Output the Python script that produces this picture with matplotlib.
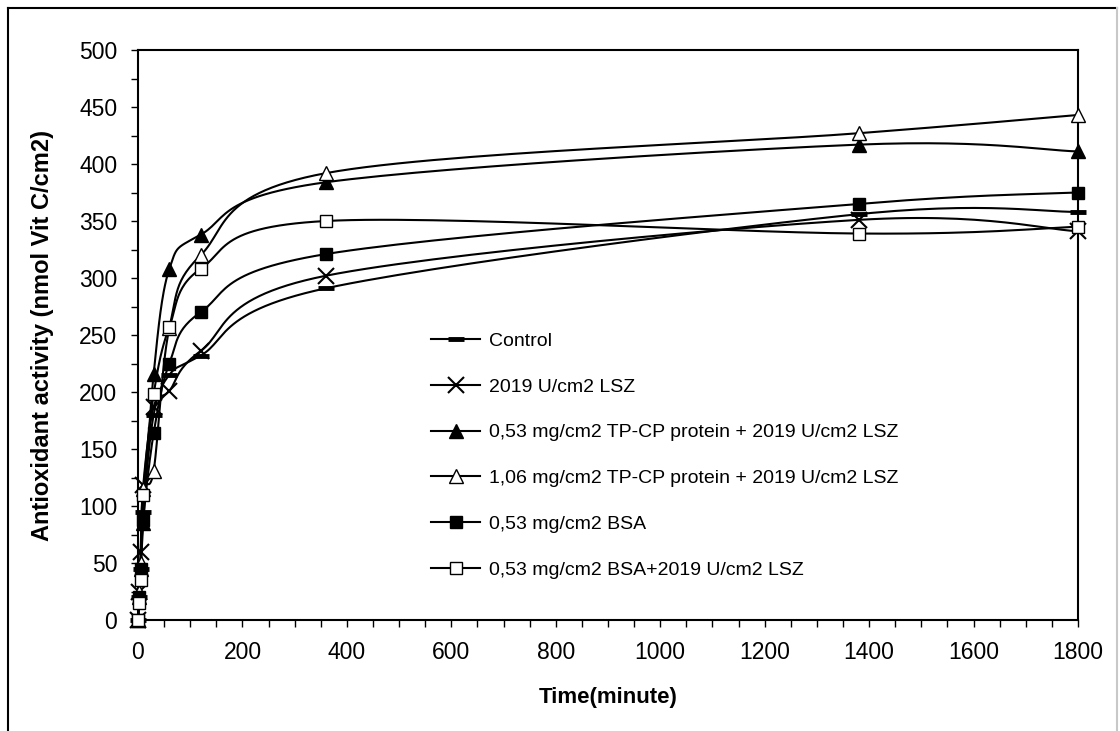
import numpy as np
import matplotlib.pyplot as plt
from matplotlib.lines import Line2D

plt.rcParams['font.family'] = ['Liberation Sans', 'DejaVu Sans']

# tiempos de muestreo (min)
tiempo = [0, 2, 5, 10, 30, 60, 120, 360, 1380, 1800]

control = [0, 20, 45, 95, 180, 215, 232, 291, 356, 358]
lsz = [0, 25, 60, 118, 187, 201, 236, 302, 351, 341]
tp053_lsz = [0, 20, 45, 85, 216, 308, 338, 384, 417, 411]
tp106_lsz = [0, 25, 50, 115, 131, 256, 320, 392, 427, 443]
bsa = [0, 20, 45, 88, 164, 225, 270, 321, 365, 375]
bsa_lsz = [0, 15, 35, 110, 198, 257, 308, 350, 339, 345]

etiquetas = ['Control',
             '2019 U/cm2 LSZ',
             '0,53 mg/cm2 TP-CP protein + 2019 U/cm2 LSZ',
             '1,06 mg/cm2 TP-CP protein + 2019 U/cm2 LSZ',
             '0,53 mg/cm2 BSA',
             '0,53 mg/cm2 BSA+2019 U/cm2 LSZ']

XMAX, YMAX = 1800, 500


def suavizar(x, y, n=30):
    # curva bezier tipo Excel, calculada en espacio de pantalla
    sx, sy = 940.0 / XMAX, 570.0 / YMAX
    p = np.column_stack([np.array(x, float) * sx, np.array(y, float) * sy])
    pts = []
    for i in range(len(p) - 1):
        p0 = p[i - 1] if i > 0 else p[i]
        p3 = p[i + 2] if i + 2 < len(p) else p[i + 1]
        c1 = p[i] + (p[i + 1] - p0) / 6.0
        c2 = p[i + 1] - (p3 - p[i]) / 6.0
        t = np.linspace(0, 1, n)[:, None]
        seg = ((1 - t) ** 3 * p[i] + 3 * (1 - t) ** 2 * t * c1
               + 3 * (1 - t) * t ** 2 * c2 + t ** 3 * p[i + 1])
        pts.append(seg if i == 0 else seg[1:])
    pts = np.vstack(pts)
    return pts[:, 0] / sx, pts[:, 1] / sy


series = [
    (control, dict(marker='_', markersize=11, markeredgewidth=3.5, markerfacecolor='black')),
    (lsz, dict(marker='x', markersize=11, markeredgewidth=1.5, markerfacecolor='black')),
    (tp053_lsz, dict(marker='^', markersize=10, markerfacecolor='black')),
    (tp106_lsz, dict(marker='^', markersize=10, markerfacecolor='white')),
    (bsa, dict(marker='s', markersize=8.5, markerfacecolor='black')),
    (bsa_lsz, dict(marker='s', markersize=8.5, markerfacecolor='white')),
]

fig = plt.figure(figsize=(11.2, 7.31), dpi=100)
ax = fig.add_axes([138 / 1120, 1 - 620 / 731, 940 / 1120, 570 / 731])

handles = []
for datos, estilo in series:
    xs, ys = suavizar(tiempo, datos)
    ax.plot(xs, ys, color='black', linewidth=1.5, zorder=2)
    ax.plot(tiempo, datos, linestyle='none', color='black',
            markeredgecolor='black', clip_on=False, zorder=3, **estilo)
    handles.append(Line2D([], [], color='black', linewidth=1.5,
                          markeredgecolor='black', **estilo))

ax.set_xlim(0, XMAX)
ax.set_ylim(0, YMAX)
ax.set_xticks(np.arange(0, 1801, 200))
ax.set_xticks(np.arange(0, 1801, 50), minor=True)
ax.set_yticks(np.arange(0, 501, 50))
ax.set_yticks(np.arange(0, 501, 25), minor=True)
ax.tick_params(which='both', direction='out', length=5, width=1, color='black')
ax.tick_params(axis='x', labelsize=16.5, pad=10)
ax.tick_params(axis='y', labelsize=16.5, pad=10)
for s in ax.spines.values():
    s.set_linewidth(1.5)

ax.set_xlabel('Time(minute)', fontsize=16, fontweight='bold', labelpad=17)
ax.set_ylabel('Antioxidant activity (nmol Vit C/cm2)', fontsize=17,
              fontweight='bold', labelpad=18)

ax.legend(handles, etiquetas, loc='upper left', bbox_to_anchor=(0.312, 0.505),
          frameon=False, fontsize=14, handlelength=2.5, handletextpad=0.45,
          labelspacing=1.45, borderpad=0, borderaxespad=0)

# marco exterior
fig.add_artist(Line2D([8 / 1120, 8 / 1120], [0, 1 - 8 / 731], color='black', linewidth=1.5))
fig.add_artist(Line2D([8 / 1120, 1117 / 1120], [1 - 8 / 731, 1 - 8 / 731], color='black', linewidth=1.5))
fig.add_artist(Line2D([1117 / 1120, 1117 / 1120], [0, 1 - 8 / 731], color='#c8c8c8', linewidth=1.5))

fig.savefig('out.png', dpi=100)
